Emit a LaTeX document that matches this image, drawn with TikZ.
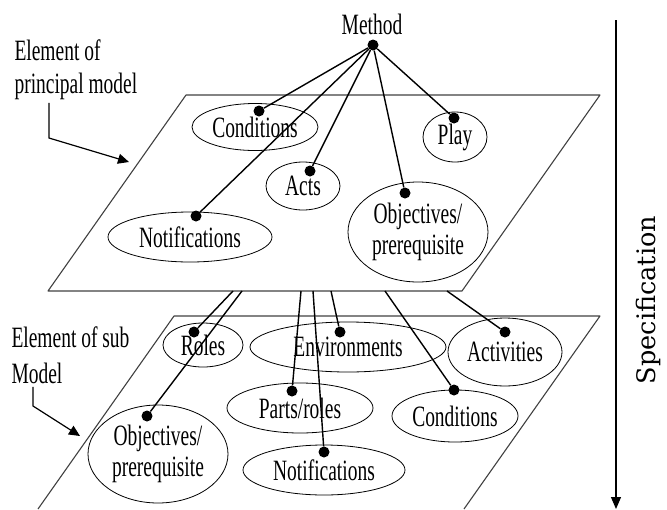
\documentclass[tikz,border=0pt]{standalone}
\usepackage{fontspec}
\setmainfont{Liberation Serif}[FakeStretch=0.66]
\newfontfamily\specfont{DejaVu Serif}
\usetikzlibrary{shapes.geometric,arrows.meta}

\begin{document}
\begin{tikzpicture}[x=1pt,y=-1pt,
  font=\fontsize{29.5}{34}\selectfont,
  elem/.style={ellipse,draw,line width=0.8pt,inner sep=0pt,align=center},
  dot/.style={circle,fill=black,inner sep=0pt,minimum width=9pt,minimum height=11pt},
  link/.style={line width=1.4pt},
  plane/.style={draw=black!75,line width=1.1pt,line join=round},
  pointer/.style={line width=1.2pt,-{Triangle[length=11pt,width=10pt]}}]
  \useasboundingbox (0,0) rectangle (667,509);

  % the two planes
  \draw[plane] (186,95) -- (600,95) -- (462,291) -- (48,291) -- cycle;
  \draw[plane] (38,509) -- (174,316) -- (600,316) -- (464,509);

  % principal model
  \node (method) at (372,24) {Method};
  \node[dot] (m) at (373,45) {};
  \node[elem,minimum width=126pt,minimum height=47pt] (topCond) at (255,127) {Conditions};
  \node[elem,minimum width=64pt,minimum height=50pt] (topPlay) at (455,137) {Play};
  \node[elem,minimum width=74pt,minimum height=48pt] (topActs) at (303,186) {Acts};
  \node[elem,minimum width=164pt,minimum height=50pt] (topNotif) at (190,237) {Notifications};
  \node[elem,minimum width=140pt,minimum height=100pt] (topObj) at (418,232) {Objectives/\\[-3pt]prerequisite};
  \node[dot] (d1) at (259,111) {};
  \node[dot] (d2) at (454,118) {};
  \node[dot] (d3) at (310,171) {};
  \node[dot] (d4) at (196,216) {};
  \node[dot] (d5) at (405,193) {};
  \draw[link] (m) -- (d1);
  \draw[link] (m) -- (d2);
  \draw[link] (m) -- (d3);
  \draw[link] (m) -- (d4);
  \draw[link] (m) -- (d5);

  % sub model
  \node[elem,minimum width=80pt,minimum height=44pt] (subRoles) at (203,345) {Roles};
  \node[elem,minimum width=196pt,minimum height=50pt] (subEnv) at (348,347) {Environments};
  \node[elem,minimum width=114pt,minimum height=68pt] (subAct) at (505,352) {Activities};
  \node[elem,minimum width=146pt,minimum height=50pt] (subParts) at (300,408) {Parts/roles};
  \node[elem,minimum width=126pt,minimum height=52pt] (subCond) at (455,416) {Conditions};
  \node[elem,minimum width=162pt,minimum height=50pt] (subNotif) at (324,470) {Notifications};
  \node[elem,minimum width=140pt,minimum height=98pt] (subObj) at (158,454) {Objectives/\\[-3pt]prerequisite};
  \node[dot] (s1) at (194,332) {};
  \node[dot] (s2) at (340,332) {};
  \node[dot] (s3) at (505,332) {};
  \node[dot] (s4) at (292,391) {};
  \node[dot] (s5) at (454,390) {};
  \node[dot] (s6) at (324,452) {};
  \node[dot] (s7) at (147,416) {};
  \coordinate (e1) at (233,291);
  \coordinate (e2) at (242,291);
  \coordinate (e3) at (301,291);
  \coordinate (e4) at (313,291);
  \coordinate (e5) at (331,291);
  \coordinate (e6) at (385,291);
  \coordinate (e7) at (447,291);
  \draw[link] (e1) -- (s1);
  \draw[link] (e2) -- (s7);
  \draw[link] (e3) -- (s4);
  \draw[link] (e4) -- (s6);
  \draw[link] (e5) -- (s2);
  \draw[link] (e6) -- (s5);
  \draw[link] (e7) -- (s3);

  % side labels
  \node[anchor=base west] (lblA1) at (11,60) {Element of};
  \node[anchor=base west] (lblA2) at (11,93) {principal model};
  \coordinate (bendA) at (49,138);
  \coordinate (tipA) at (129,162);
  \draw[pointer] (lblA2.south -| bendA) -- (bendA) -- (tipA);
  \node[anchor=base west] (lblB1) at (8,347) {Element of sub};
  \node[anchor=base west] (lblB2) at (8,383) {Model};
  \coordinate (bendB) at (33,406);
  \coordinate (tipB) at (80,436);
  \draw[pointer] (lblB2.south -| bendB) -- (bendB) -- (tipB);

  % specification axis
  \coordinate (specTop) at (616,20);
  \coordinate (specEnd) at (616,509);
  \draw[line width=1.2pt,-{Triangle[length=12pt,width=10pt]}] (specTop) -- (specEnd);
  \node[rotate=90,font=\specfont\fontsize{25.5}{30}\selectfont] (spec) at (648,300) {Specification};
\end{tikzpicture}
\end{document}
